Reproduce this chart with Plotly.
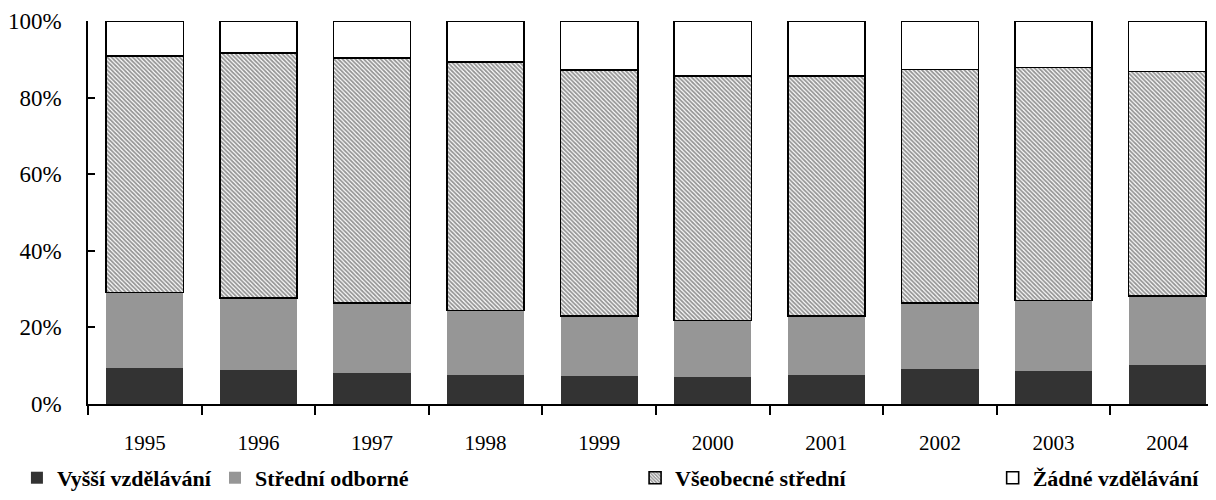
import plotly.graph_objects as go

years = ["1995", "1996", "1997", "1998", "1999", "2000", "2001", "2002", "2003", "2004"]
vyssi = [9.3, 8.8, 8.2, 7.6, 7.4, 7.0, 7.5, 9.2, 8.7, 10.2]
stredni_odborne = [19.8, 18.8, 18.2, 16.8, 15.6, 14.8, 15.4, 17.2, 18.3, 18.0]
vseobecne = [61.8, 64.0, 64.0, 64.9, 64.2, 63.8, 62.7, 60.9, 60.9, 58.6]
zadne = [9.1, 8.4, 9.6, 10.7, 12.8, 14.4, 14.4, 12.7, 12.1, 13.2]

names = ["Vyšší vzdělávání", "Střední odborné", "Všeobecné střední", "Žádné vzdělávání"]
y_tickvals = [0, 20, 40, 60, 80, 100]
y_ticktext = ["0%", "20%", "40%", "60%", "80%", "100%"]

FONT = "Liberation Serif"

fig = go.Figure()
fig.add_trace(go.Bar(x=years, y=vyssi, name=names[0], legend="legend",
                     marker=dict(color="#333333", line=dict(width=0))))
fig.add_trace(go.Bar(x=years, y=stredni_odborne, name=names[1], legend="legend2",
                     marker=dict(color="#969696", line=dict(width=0))))
fig.add_trace(go.Bar(x=years, y=vseobecne, name=names[2], legend="legend3",
                     marker=dict(color="white",
                                 pattern=dict(shape="\\", size=3, solidity=0.6,
                                              fgcolor="#2a2a2a", bgcolor="white",
                                              fillmode="overlay"),
                                 line=dict(color="black", width=1.6))))
fig.add_trace(go.Bar(x=years, y=zadne, name=names[3], legend="legend4",
                     marker=dict(color="white", line=dict(color="black", width=1.6))))

leg_common = dict(orientation="h", yanchor="middle", y=-0.193, xanchor="left",
                  font=dict(family=FONT, size=22, color="black", weight="bold"),
                  bgcolor="rgba(0,0,0,0)", borderwidth=0)

# page has an 8px body margin: figure is 1208x492 placed at (8, 8)
fig.update_layout(
    width=1208, height=492,
    margin=dict(l=80, r=0, t=13, b=96, autoexpand=False),
    plot_bgcolor="white", paper_bgcolor="white",
    showlegend=True,
    barmode="stack", bargap=0.32,
    font=dict(family=FONT, color="black"),
    legend=dict(x=-0.063, **leg_common),
    legend2=dict(x=0.1126, **leg_common),
    legend3=dict(x=0.485, **leg_common),
    legend4=dict(x=0.802, **leg_common),
    xaxis=dict(type="category", range=[-0.5, 9.43], showline=True, linecolor="black",
               linewidth=1.5, ticks="outside", tickson="boundaries", ticklen=9,
               tickwidth=1.5, tickcolor="black", showgrid=False, ticklabelstandoff=19,
               tickfont=dict(family=FONT, size=21, color="black"), fixedrange=True),
    yaxis=dict(range=[0, 100], tickvals=y_tickvals, ticktext=y_ticktext,
               showline=True, linecolor="black", linewidth=1.5, ticks="inside",
               ticklen=7, tickwidth=1.5, tickcolor="black", showgrid=False,
               zeroline=False, ticklabelstandoff=20,
               tickfont=dict(family=FONT, size=23, color="black"), fixedrange=True),
)

fig.write_html("out.html")
